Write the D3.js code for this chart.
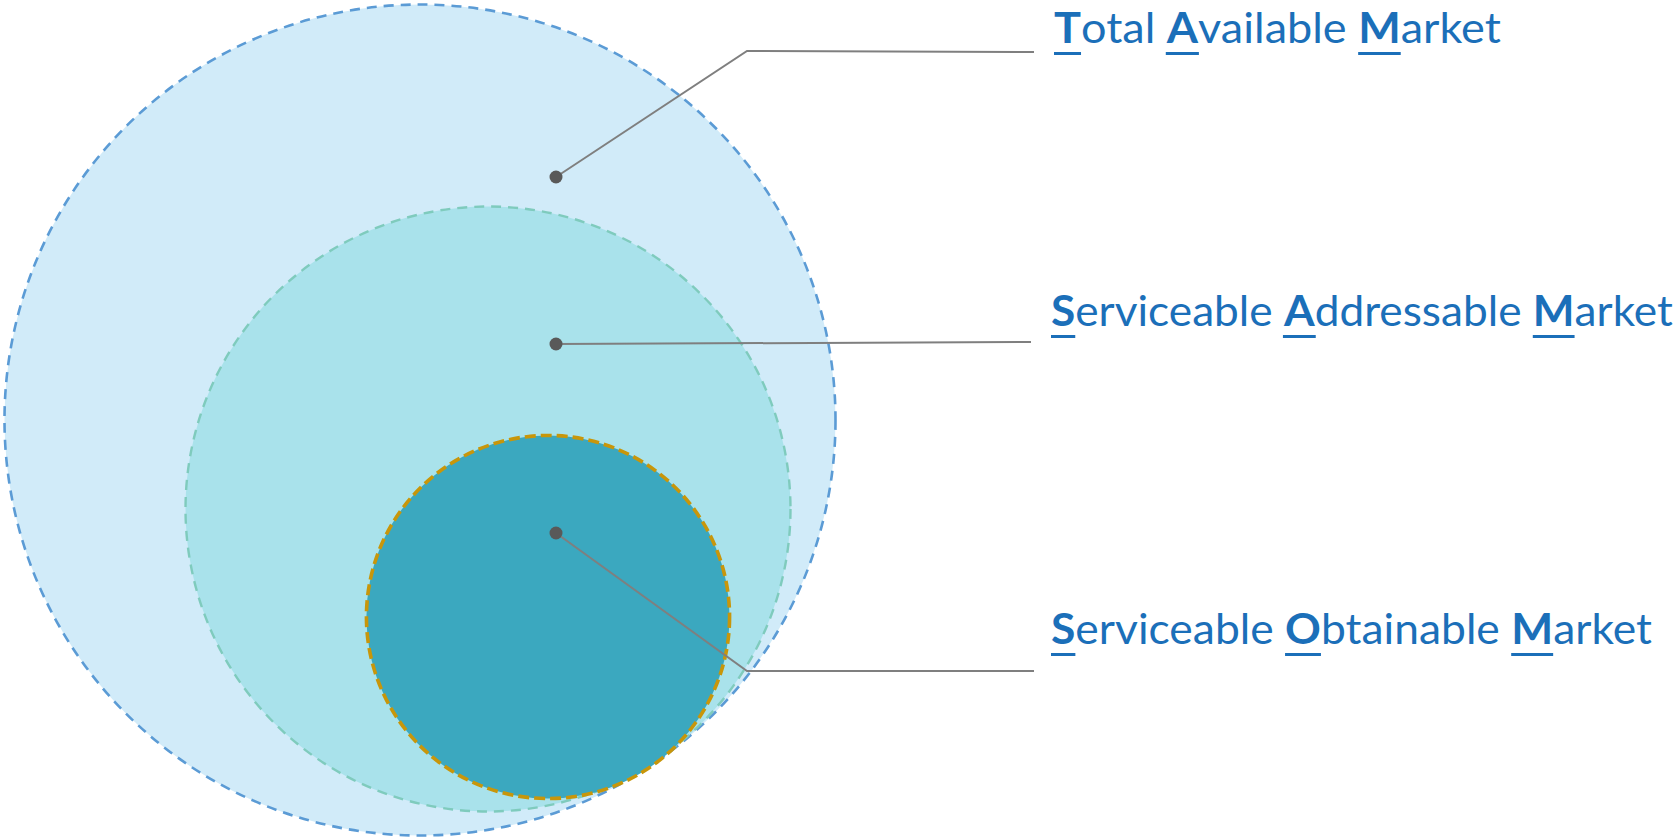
<!DOCTYPE html>
<html>
<head>
<meta charset="utf-8">
<script src="https://cdn.jsdelivr.net/npm/d3@7"></script>
<style>
  html, body { margin: 0; padding: 0; background: #fff; }
  svg { display: block; }
</style>
</head>
<body>
<div id="chart"></div>
<script>
// DATA
var marketNames = ["Total Available Market", "Serviceable Addressable Market", "Serviceable Obtainable Market"];
var marketKeys = ["TAM", "SAM", "SOM"];
var marketSizes = [100, 72.8, 43.7]; // relative size of each circle

// LAYOUT (pixels)
var width = 1679, height = 838;
var centers = [[420, 420], [488, 509], [548, 617]];
var dots = [[556, 177], [556, 344], [556, 533]];
var elbows = [[747, 51], null, [747, 671]];
var lineEnds = [[1034, 52], [1031, 342], [1034, 671]];
var labelX = [1054, 1051, 1051];
var labelY = [43, 326, 644];
var labelWidth = [447, 622, 601];

var fills = ["#d1ebf9", "#a9e2eb", "#3ba8bf"];
var strokes = ["#5b9bd5", "#7fcbbd", "#c8960a"];
var strokeW = [2.6, 2.4, 3.6];
var dashes = ["10,7", "10,7", "11,5"];
var textColor = "#1b6fb9";

var r = d3.scaleLinear().domain([0, 100]).range([0, 415.5]);

var svg = d3.select("#chart").append("svg")
    .attr("width", width)
    .attr("height", height);

// circles
svg.selectAll("circle.market")
    .data(marketSizes)
    .enter()
    .append("circle")
    .attr("class", "market")
    .attr("cx", function(d, i) { return centers[i][0]; })
    .attr("cy", function(d, i) { return centers[i][1]; })
    .attr("r", function(d) { return r(d); })
    .style("fill", function(d, i) { return fills[i]; })
    .style("stroke", function(d, i) { return strokes[i]; })
    .style("stroke-width", function(d, i) { return strokeW[i]; })
    .style("stroke-dasharray", function(d, i) { return dashes[i]; });

// leader lines
var line = d3.line();
svg.selectAll("path.leader")
    .data(marketNames)
    .enter()
    .append("path")
    .attr("class", "leader")
    .attr("d", function(d, i) {
        var pts = [dots[i]];
        if (elbows[i]) pts.push(elbows[i]);
        pts.push(lineEnds[i]);
        return line(pts);
    })
    .style("fill", "none")
    .style("stroke", "#7f7f7f")
    .style("stroke-width", 2);

svg.selectAll("circle.dot")
    .data(marketNames)
    .enter()
    .append("circle")
    .attr("class", "dot")
    .attr("cx", function(d, i) { return dots[i][0]; })
    .attr("cy", function(d, i) { return dots[i][1]; })
    .attr("r", 6.5)
    .style("fill", "#595959");

// labels: bold + underlined first letter of each word
marketNames.forEach(function(name, i) {
    var g = svg.append("g");
    var text = g.append("text")
        .attr("x", 0)
        .attr("y", 0)
        .style("font-family", "Lato, 'Open Sans', sans-serif")
        .style("font-size", "42px")
        .style("fill", textColor);

    var words = name.split(" ");
    var firsts = [];
    words.forEach(function(w, j) {
        var b = text.append("tspan")
            .style("font-weight", "bold")
            .text(w.charAt(0));
        firsts.push(b);
        text.append("tspan")
            .text(w.slice(1) + (j < words.length - 1 ? " " : ""));
    });

    var full = text.node().getComputedTextLength();
    var sx = labelWidth[i] / full;
    g.attr("transform", "translate(" + labelX[i] + "," + labelY[i] + ") scale(" + sx + ",1)");

    firsts.forEach(function(b) {
        var bb = b.node().getBBox();
        g.append("rect")
            .attr("x", bb.x)
            .attr("y", 9)
            .attr("width", bb.width)
            .attr("height", 3)
            .style("fill", textColor);
    });
});
</script>
</body>
</html>
